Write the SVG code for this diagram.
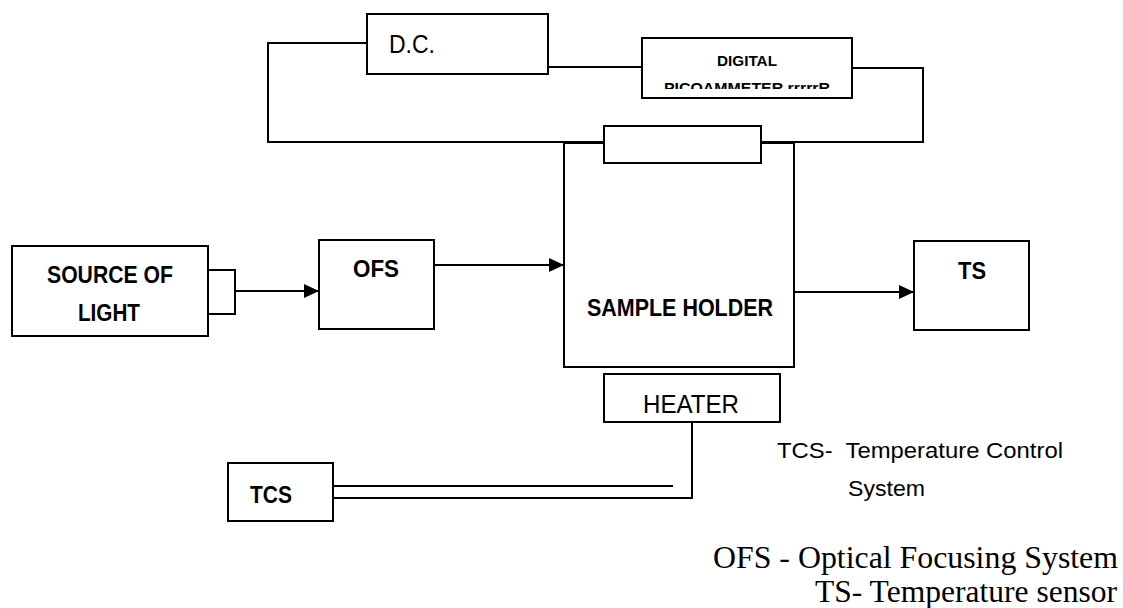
<svg xmlns="http://www.w3.org/2000/svg" width="1123" height="608" viewBox="0 0 1123 608">
<style>
.box{fill:#fff;stroke:#000;stroke-width:2}
.ln{fill:none;stroke:#000;stroke-width:2}
.b{font-family:"Liberation Sans",Arial,sans-serif;font-weight:bold;fill:#000;text-anchor:middle}
.r{font-family:"Liberation Sans",Arial,sans-serif;fill:#000;text-anchor:middle}
.s{font-family:"Liberation Serif","Times New Roman",serif;fill:#000}
</style>
<defs>
<marker id="ah" markerUnits="userSpaceOnUse" markerWidth="15" markerHeight="14" refX="15" refY="7" orient="auto">
<path d="M0,0 L15,7 L0,14 z" fill="#000"/>
</marker>
<clipPath id="pclip"><rect x="643" y="39" width="208" height="50"/></clipPath>
</defs>
<rect width="1123" height="608" fill="#fff"/>
<g id="connectors">
<path class="ln" d="M367,43 H268 V142 H604"/>
<path class="ln" d="M548,67 H642"/>
<path class="ln" d="M852,68 H923 V142 H761"/>
<path class="ln" d="M235,291 H319" marker-end="url(#ah)"/>
<path class="ln" d="M434,265 H564" marker-end="url(#ah)"/>
<path class="ln" d="M794,292 H914" marker-end="url(#ah)"/>
<path class="ln" d="M692,422 V498 H333"/>
<path class="ln" d="M333,486 H673"/>
</g>
<g id="dc">
<rect class="box" x="367" y="14" width="181" height="60"/>
<text class="r" x="412" y="53" font-size="26" textLength="46" lengthAdjust="spacingAndGlyphs">D.C.</text>
</g>
<g id="picoammeter">
<rect class="box" x="642" y="38" width="210" height="60"/>
<g clip-path="url(#pclip)">
<text class="b" x="747" y="66" font-size="15" textLength="60" lengthAdjust="spacingAndGlyphs">DIGITAL</text>
<text class="b" x="747" y="93" font-size="15" textLength="166" lengthAdjust="spacingAndGlyphs">PICOAMMETER rrrrrR</text>
</g>
</g>
<g id="sample-holder">
<rect class="box" x="564" y="143" width="230" height="224"/>
<rect class="box" x="604" y="126" width="157" height="37"/>
<text class="b" x="680" y="316" font-size="24" textLength="186" lengthAdjust="spacingAndGlyphs">SAMPLE HOLDER</text>
</g>
<g id="source">
<rect class="box" x="12" y="246" width="196" height="90"/>
<rect class="box" x="208" y="270" width="27" height="44"/>
<text class="b" x="110" y="283" font-size="23.5" textLength="126" lengthAdjust="spacingAndGlyphs">SOURCE OF</text>
<text class="b" x="109" y="321" font-size="23.5" textLength="62" lengthAdjust="spacingAndGlyphs">LIGHT</text>
</g>
<g id="ofs">
<rect class="box" x="319" y="240" width="115" height="89"/>
<text class="b" x="376" y="277" font-size="24" textLength="46" lengthAdjust="spacingAndGlyphs">OFS</text>
</g>
<g id="ts">
<rect class="box" x="914" y="241" width="115" height="89"/>
<text class="b" x="972" y="279" font-size="24" textLength="28" lengthAdjust="spacingAndGlyphs">TS</text>
</g>
<g id="heater">
<rect class="box" x="604" y="374" width="176" height="48"/>
<text class="r" x="691" y="413" font-size="25" textLength="96" lengthAdjust="spacingAndGlyphs">HEATER</text>
</g>
<g id="tcs">
<rect class="box" x="228" y="463" width="105" height="58"/>
<text class="b" x="271" y="503" font-size="23" textLength="42" lengthAdjust="spacingAndGlyphs">TCS</text>
</g>
<g id="legend">
<text class="r" x="777" y="458" font-size="21.5" style="text-anchor:start;white-space:pre" xml:space="preserve" textLength="286" lengthAdjust="spacingAndGlyphs">TCS-  Temperature Control</text>
<text class="r" x="848" y="496" font-size="21.5" style="text-anchor:start" textLength="77" lengthAdjust="spacingAndGlyphs">System</text>
<text class="s" x="713" y="568" font-size="31.5" textLength="405" lengthAdjust="spacingAndGlyphs">OFS - Optical Focusing System</text>
<text class="s" x="815" y="602" font-size="31.5" textLength="302" lengthAdjust="spacingAndGlyphs">TS- Temperature sensor</text>
</g>
</svg>
